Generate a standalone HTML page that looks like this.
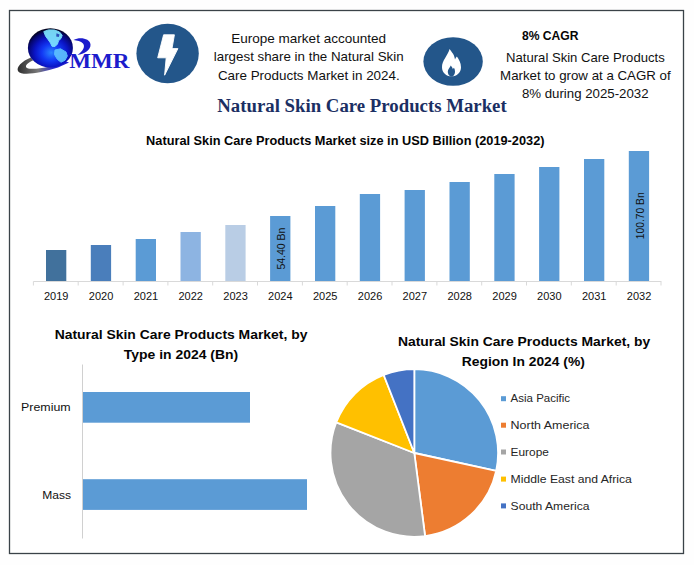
<!DOCTYPE html>
<html><head><meta charset="utf-8"><title>Natural Skin Care Products Market</title>
<style>html,body{margin:0;padding:0;background:#fefefe;}svg{display:block}text{font-family:"Liberation Sans",sans-serif;fill:#111111}.b{font-weight:bold;fill:#050505}.s{font-family:"Liberation Serif",serif;font-weight:bold}</style></head><body>
<svg width="694" height="565" viewBox="0 0 694 565">
<defs><radialGradient id="gl" cx="0.52" cy="0.62" r="0.6"><stop offset="0" stop-color="#2a86ff"/><stop offset="0.35" stop-color="#1238f4"/><stop offset="0.62" stop-color="#0a14c4"/><stop offset="0.86" stop-color="#050670"/><stop offset="1" stop-color="#02021e"/></radialGradient><linearGradient id="sw" x1="0" y1="0" x2="1" y2="0"><stop offset="0" stop-color="#2e2e2e"/><stop offset="0.4" stop-color="#7a7a7a"/><stop offset="0.7" stop-color="#2a2ad0"/><stop offset="1" stop-color="#1a1ad0"/></linearGradient></defs>
<rect x="0" y="0" width="694" height="565" fill="#fefefe"/>
<rect x="9.5" y="10.5" width="674" height="543" fill="#ffffff" stroke="#3a4248" stroke-width="1.3"/>
<g id="logo">
<path transform="translate(0,1.4)" d="M31 56 C22 59.5 15.5 66 18.3 70 C21.5 74.5 40 72 58 66.2 L69 61.2 L66 60 C50 66 33 69 27 66.5 C24 64.5 28 61 33 59 Z" fill="url(#sw)"/>
<ellipse cx="50.4" cy="47.9" rx="22.5" ry="19.7" fill="url(#gl)"/>
<path d="M43.8 31.6 L48.5 29.9 L54.5 30 L59.5 32 L62.2 35.3 L61 38.5 L58.5 40.8 L57.5 44 L55 46.5 L52 46.3 L50.5 43 L48 39.5 L45.5 36 Z" fill="#7fe6ff" stroke="#7fe6ff" stroke-width="1" stroke-linejoin="round" opacity="0.92"/>
<path d="M55 50 L60.5 48.8 L66 52 L67.3 56 L65 60.3 L61 62.2 L57.3 59.3 L54.5 54.5 Z" fill="#5fc4ff" stroke="#5fc4ff" stroke-width="1" stroke-linejoin="round" opacity="0.9"/>
<path d="M56.5 33.2 L59.5 34.6 L58.8 37 L56.2 36.6 Z" fill="#0a18a0" opacity="0.7"/>
<path d="M73.5 40 C80 36.5 90 38.5 90.5 44.5 C91 50 84 54 77.5 55 C83 51 85.5 46.5 83 43.5 C81 41 77 40.5 73.5 40 Z" fill="#1c1ccc"/>
<text x="69.2" y="68.4" font-size="20.5" textLength="60.3" lengthAdjust="spacingAndGlyphs" class="s" style="fill:#1c1ccc">MMR</text>
</g>
<ellipse cx="167.6" cy="53.5" rx="31.2" ry="29.7" fill="#23568a"/>
<polygon points="163.6,34.8 174.4,34.8 172.0,48.6 177.9,48.6 164.6,75.2 166.2,57.8 157.7,57.8" fill="#ffffff" stroke="#ffffff" stroke-width="0.9" stroke-linejoin="round"/>
<ellipse cx="453.1" cy="61.5" rx="29.7" ry="24.3" fill="#23568a"/>
<path d="M449.6 49 C452 52.5 454.6 54.8 455 59.6 C455.5 58.4 456.1 57.4 456.9 56.6 C458.8 59.2 461 63 461 67.2 C461 72.6 456.8 76.3 451.5 76.3 C446.2 76.3 442 72.6 442 67.2 C442 60.5 447.6 56 449.6 49 Z" fill="#ffffff"/>
<path d="M450.8 65.4 C451.7 66.8 452.6 67.6 452.9 69.2 C453.2 68.6 453.6 68.1 454 67.8 C454.6 69 455 70.2 455 71.4 C455 74 453.6 76.6 451.4 76.6 C449.2 76.6 447.8 74 447.8 71.6 C447.8 69 449.9 67.6 450.8 65.4 Z" fill="#23568a"/>
<text x="231.2" y="42.8" font-size="12.4" textLength="154.9" lengthAdjust="spacingAndGlyphs">Europe market accounted</text>
<text x="213.8" y="60.8" font-size="12.4" textLength="189.8" lengthAdjust="spacingAndGlyphs">largest share in the Natural Skin</text>
<text x="217.9" y="79.6" font-size="12.4" textLength="181.8" lengthAdjust="spacingAndGlyphs">Care Products Market in 2024.</text>
<text x="521.9" y="39.7" font-size="12.6" textLength="56.6" lengthAdjust="spacingAndGlyphs" class="b">8% CAGR</text>
<text x="506.1" y="62.4" font-size="12.4" textLength="158.6" lengthAdjust="spacingAndGlyphs">Natural Skin Care Products</text>
<text x="500.1" y="79.8" font-size="12.4" textLength="170.6" lengthAdjust="spacingAndGlyphs">Market to grow at a CAGR of</text>
<text x="521.9" y="97.8" font-size="12.4" textLength="126.7" lengthAdjust="spacingAndGlyphs">8% during 2025-2032</text>
<text x="217.3" y="112.0" font-size="19.1" textLength="289.4" lengthAdjust="spacingAndGlyphs" class="s" style="fill:#1b2f63">Natural Skin Care Products Market</text>
<text x="146.1" y="144.5" font-size="12.5" textLength="398.4" lengthAdjust="spacingAndGlyphs" class="b">Natural Skin Care Products Market size in USD Billion (2019-2032)</text>
<path d="M33.4 281.5 H661.4" stroke="#d9d9d9" stroke-width="1" fill="none"/>
<path d="M33.4 281.5 V285.5" stroke="#d9d9d9" stroke-width="1" fill="none"/>
<path d="M78.2 281.5 V285.5" stroke="#d9d9d9" stroke-width="1" fill="none"/>
<path d="M123.1 281.5 V285.5" stroke="#d9d9d9" stroke-width="1" fill="none"/>
<path d="M167.9 281.5 V285.5" stroke="#d9d9d9" stroke-width="1" fill="none"/>
<path d="M212.7 281.5 V285.5" stroke="#d9d9d9" stroke-width="1" fill="none"/>
<path d="M257.5 281.5 V285.5" stroke="#d9d9d9" stroke-width="1" fill="none"/>
<path d="M302.4 281.5 V285.5" stroke="#d9d9d9" stroke-width="1" fill="none"/>
<path d="M347.2 281.5 V285.5" stroke="#d9d9d9" stroke-width="1" fill="none"/>
<path d="M392.0 281.5 V285.5" stroke="#d9d9d9" stroke-width="1" fill="none"/>
<path d="M436.9 281.5 V285.5" stroke="#d9d9d9" stroke-width="1" fill="none"/>
<path d="M481.7 281.5 V285.5" stroke="#d9d9d9" stroke-width="1" fill="none"/>
<path d="M526.5 281.5 V285.5" stroke="#d9d9d9" stroke-width="1" fill="none"/>
<path d="M571.3 281.5 V285.5" stroke="#d9d9d9" stroke-width="1" fill="none"/>
<path d="M616.2 281.5 V285.5" stroke="#d9d9d9" stroke-width="1" fill="none"/>
<path d="M661.0 281.5 V285.5" stroke="#d9d9d9" stroke-width="1" fill="none"/>
<rect x="46.0" y="250" width="20.3" height="31" fill="#41719c"/>
<text x="44.0" y="300.0" font-size="11.3" textLength="24.5" lengthAdjust="spacingAndGlyphs">2019</text>
<rect x="90.8" y="245" width="20.3" height="36" fill="#4a7ebb"/>
<text x="88.8" y="300.0" font-size="11.3" textLength="24.5" lengthAdjust="spacingAndGlyphs">2020</text>
<rect x="135.7" y="239" width="20.3" height="42" fill="#5b9bd5"/>
<text x="133.7" y="300.0" font-size="11.3" textLength="24.5" lengthAdjust="spacingAndGlyphs">2021</text>
<rect x="180.5" y="232" width="20.3" height="49" fill="#8db4e2"/>
<text x="178.5" y="300.0" font-size="11.3" textLength="24.5" lengthAdjust="spacingAndGlyphs">2022</text>
<rect x="225.3" y="225" width="20.3" height="56" fill="#b9cde5"/>
<text x="223.3" y="300.0" font-size="11.3" textLength="24.5" lengthAdjust="spacingAndGlyphs">2023</text>
<rect x="270.1" y="216" width="20.3" height="65" fill="#5b9bd5"/>
<text x="268.1" y="300.0" font-size="11.3" textLength="24.5" lengthAdjust="spacingAndGlyphs">2024</text>
<rect x="315.0" y="206" width="20.3" height="75" fill="#5b9bd5"/>
<text x="313.0" y="300.0" font-size="11.3" textLength="24.5" lengthAdjust="spacingAndGlyphs">2025</text>
<rect x="359.8" y="194" width="20.3" height="87" fill="#5b9bd5"/>
<text x="357.8" y="300.0" font-size="11.3" textLength="24.5" lengthAdjust="spacingAndGlyphs">2026</text>
<rect x="404.6" y="190" width="20.3" height="91" fill="#5b9bd5"/>
<text x="402.6" y="300.0" font-size="11.3" textLength="24.5" lengthAdjust="spacingAndGlyphs">2027</text>
<rect x="449.5" y="182" width="20.3" height="99" fill="#5b9bd5"/>
<text x="447.5" y="300.0" font-size="11.3" textLength="24.5" lengthAdjust="spacingAndGlyphs">2028</text>
<rect x="494.3" y="174" width="20.3" height="107" fill="#5b9bd5"/>
<text x="492.3" y="300.0" font-size="11.3" textLength="24.5" lengthAdjust="spacingAndGlyphs">2029</text>
<rect x="539.1" y="167" width="20.3" height="114" fill="#5b9bd5"/>
<text x="537.1" y="300.0" font-size="11.3" textLength="24.5" lengthAdjust="spacingAndGlyphs">2030</text>
<rect x="584.0" y="159" width="20.3" height="122" fill="#5b9bd5"/>
<text x="582.0" y="300.0" font-size="11.3" textLength="24.5" lengthAdjust="spacingAndGlyphs">2031</text>
<rect x="628.8" y="151" width="20.3" height="130" fill="#5b9bd5"/>
<text x="626.8" y="300.0" font-size="11.3" textLength="24.5" lengthAdjust="spacingAndGlyphs">2032</text>
<text transform="translate(284.8,269.6) rotate(-90)" font-size="11" textLength="42" lengthAdjust="spacingAndGlyphs">54.40 Bn</text>
<text transform="translate(643.6,239.3) rotate(-90)" font-size="11" textLength="47" lengthAdjust="spacingAndGlyphs">100.70 Bn</text>
<text x="54.7" y="338.8" font-size="13.6" textLength="252.7" lengthAdjust="spacingAndGlyphs" class="b">Natural Skin Care Products Market, by</text>
<text x="123.8" y="358.8" font-size="13.6" textLength="114.4" lengthAdjust="spacingAndGlyphs" class="b">Type in 2024 (Bn)</text>
<path d="M82.5 364.5 V538.5" stroke="#d0d0d0" stroke-width="1" fill="none"/>
<rect x="83" y="392" width="167" height="30.7" fill="#5b9bd5"/>
<rect x="83" y="479.2" width="224" height="30.7" fill="#5b9bd5"/>
<text x="21.1" y="411.0" font-size="10.8" textLength="49.5" lengthAdjust="spacingAndGlyphs">Premium</text>
<text x="42.3" y="499.3" font-size="10.8" textLength="28.8" lengthAdjust="spacingAndGlyphs">Mass</text>
<text x="397.9" y="345.9" font-size="13.6" textLength="252.3" lengthAdjust="spacingAndGlyphs" class="b">Natural Skin Care Products Market, by</text>
<text x="461.8" y="366.3" font-size="13.6" textLength="123.1" lengthAdjust="spacingAndGlyphs" class="b">Region In 2024 (%)</text>
<path d="M414.3 453.0 L414.30 369.20 A83.8 83.8 0 0 1 496.16 470.92 Z" fill="#5b9bd5" stroke="#ffffff" stroke-width="1.8" stroke-linejoin="round"/>
<path d="M414.3 453.0 L496.16 470.92 A83.8 83.8 0 0 1 425.09 536.10 Z" fill="#ed7d31" stroke="#ffffff" stroke-width="1.8" stroke-linejoin="round"/>
<path d="M414.3 453.0 L425.09 536.10 A83.8 83.8 0 0 1 336.33 422.29 Z" fill="#a5a5a5" stroke="#ffffff" stroke-width="1.8" stroke-linejoin="round"/>
<path d="M414.3 453.0 L336.33 422.29 A83.8 83.8 0 0 1 383.72 374.98 Z" fill="#ffc000" stroke="#ffffff" stroke-width="1.8" stroke-linejoin="round"/>
<path d="M414.3 453.0 L383.72 374.98 A83.8 83.8 0 0 1 414.30 369.20 Z" fill="#4472c4" stroke="#ffffff" stroke-width="1.8" stroke-linejoin="round"/>
<rect x="501" y="396.2" width="5" height="5" fill="#5b9bd5"/>
<text x="510.6" y="402.4" font-size="11.2" textLength="59.4" lengthAdjust="spacingAndGlyphs" style="fill:#262626">Asia Pacific</text>
<rect x="501" y="422.7" width="5" height="5" fill="#ed7d31"/>
<text x="510.6" y="428.9" font-size="11.2" textLength="78.9" lengthAdjust="spacingAndGlyphs" style="fill:#262626">North America</text>
<rect x="501" y="449.5" width="5" height="5" fill="#a5a5a5"/>
<text x="510.6" y="455.7" font-size="11.2" textLength="38.3" lengthAdjust="spacingAndGlyphs" style="fill:#262626">Europe</text>
<rect x="501" y="476.6" width="5" height="5" fill="#ffc000"/>
<text x="510.6" y="482.8" font-size="11.2" textLength="121.3" lengthAdjust="spacingAndGlyphs" style="fill:#262626">Middle East and Africa</text>
<rect x="501" y="503.4" width="5" height="5" fill="#4472c4"/>
<text x="510.6" y="509.6" font-size="11.2" textLength="78.9" lengthAdjust="spacingAndGlyphs" style="fill:#262626">South America</text>
</svg></body></html>
